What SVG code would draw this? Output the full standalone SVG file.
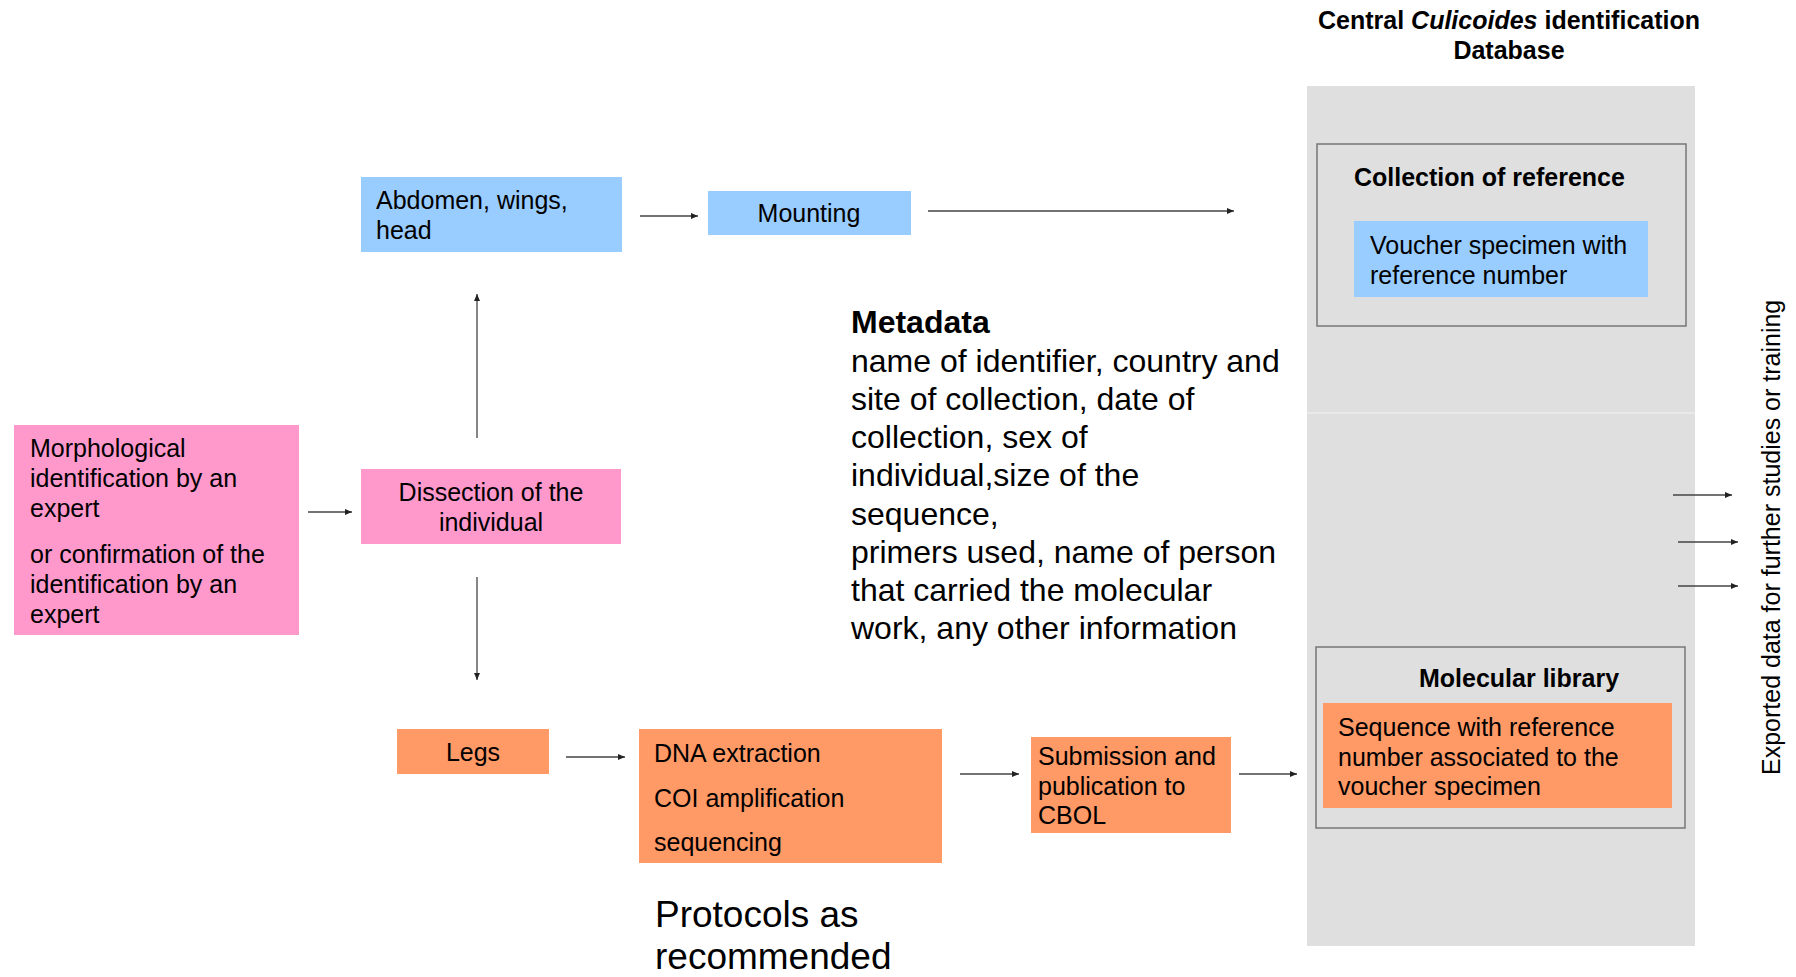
<svg xmlns="http://www.w3.org/2000/svg" width="1796" height="977" viewBox="0 0 1796 977">
<style>
text{font-family:"Liberation Sans",Arial,sans-serif;fill:#000}
.t{font-size:25px}
.b{font-size:25px;font-weight:bold}
.c{text-anchor:middle}
.m{font-size:32px}
.p{font-size:37px}
.blue{fill:#99CCFF}
.pink{fill:#FF99CC}
.orange{fill:#FF9966}
.conn line{stroke:#444;stroke-width:1.3;marker-end:url(#ah)}
</style>
<defs>
<marker id="ah" markerUnits="userSpaceOnUse" markerWidth="7" markerHeight="6" refX="7" refY="3" orient="auto">
<path d="M0,0 L7,3 L0,6 z" fill="#222"/>
</marker>
</defs>
<rect width="1796" height="977" fill="#fff"/>

<g id="database">
<rect x="1307" y="86" width="388" height="860" fill="#DFDFDF"/>
<line x1="1307" y1="413" x2="1695" y2="413" stroke="#EDEDED" stroke-width="1.5"/>
<text class="b c" x="1509" y="29">Central <tspan font-style="italic">Culicoides</tspan> identification</text>
<text class="b c" x="1509" y="59">Database</text>
</g>

<g id="collection">
<rect x="1317" y="144" width="369" height="182" fill="none" stroke="#777" stroke-width="1.5"/>
<text class="b" x="1354" y="186">Collection of reference</text>
</g>
<g id="voucher">
<rect class="blue" x="1354" y="221" width="294" height="76"/>
<text class="t" x="1370" y="254">Voucher specimen with</text>
<text class="t" x="1370" y="284">reference number</text>
</g>

<g id="molecular">
<rect x="1316" y="647" width="369" height="181" fill="none" stroke="#777" stroke-width="1.5"/>
<text class="b" x="1419" y="687">Molecular library</text>
</g>
<g id="sequence">
<rect class="orange" x="1323" y="703" width="349" height="105"/>
<text class="t" x="1338" y="736">Sequence with reference</text>
<text class="t" x="1338" y="766">number associated to the</text>
<text class="t" x="1338" y="795">voucher specimen</text>
</g>

<g id="morph">
<rect class="pink" x="14" y="425" width="285" height="210"/>
<text class="t" x="30" y="457">Morphological</text>
<text class="t" x="30" y="487">identification by an</text>
<text class="t" x="30" y="517">expert</text>
<text class="t" x="30" y="563">or confirmation of the</text>
<text class="t" x="30" y="593">identification by an</text>
<text class="t" x="30" y="623">expert</text>
</g>

<g id="dissection">
<rect class="pink" x="361" y="469" width="260" height="75"/>
<text class="t c" x="491" y="501">Dissection of the</text>
<text class="t c" x="491" y="531">individual</text>
</g>

<g id="abdomen">
<rect class="blue" x="361" y="177" width="261" height="75"/>
<text class="t" x="376" y="209">Abdomen, wings,</text>
<text class="t" x="376" y="239">head</text>
</g>

<g id="mounting">
<rect class="blue" x="708" y="191" width="203" height="44"/>
<text class="t c" x="809" y="222">Mounting</text>
</g>

<g id="legs">
<rect class="orange" x="397" y="729" width="152" height="45"/>
<text class="t c" x="473" y="761">Legs</text>
</g>

<g id="dna">
<rect class="orange" x="639" y="729" width="303" height="134"/>
<text class="t" x="654" y="762">DNA extraction</text>
<text class="t" x="654" y="807">COI amplification</text>
<text class="t" x="654" y="851">sequencing</text>
</g>

<g id="submission">
<rect class="orange" x="1031" y="737" width="200" height="96"/>
<text class="t" x="1038" y="765">Submission and</text>
<text class="t" x="1038" y="795">publication to</text>
<text class="t" x="1038" y="824">CBOL</text>
</g>

<g id="metadata">
<text class="m" x="851" y="333" font-weight="bold">Metadata</text>
<text class="m" x="851" y="371.5">name of identifier, country and</text>
<text class="m" x="851" y="409.5">site of collection, date of</text>
<text class="m" x="851" y="448">collection, sex of</text>
<text class="m" x="851" y="486">individual,size of the</text>
<text class="m" x="851" y="524.5">sequence,</text>
<text class="m" x="851" y="562.5">primers used, name of person</text>
<text class="m" x="851" y="601">that carried the molecular</text>
<text class="m" x="851" y="639">work, any other information</text>
</g>

<g id="protocols">
<text class="p" x="655" y="927">Protocols as</text>
<text class="p" x="655" y="969">recommended</text>
</g>

<g id="exported">
<text class="t" transform="translate(1780,775) rotate(-90)">Exported data for further studies or training</text>
</g>

<g class="conn" id="connectors">
<line x1="308" y1="512" x2="352" y2="512"/>
<line x1="477" y1="438" x2="477" y2="294"/>
<line x1="477" y1="577" x2="477" y2="680"/>
<line x1="640" y1="216" x2="698" y2="216"/>
<line x1="928" y1="211" x2="1234" y2="211"/>
<line x1="566" y1="757" x2="625" y2="757"/>
<line x1="960" y1="774" x2="1019" y2="774"/>
<line x1="1239" y1="774" x2="1297" y2="774"/>
<line x1="1673" y1="495" x2="1732" y2="495"/>
<line x1="1678" y1="542" x2="1738" y2="542"/>
<line x1="1678" y1="586" x2="1738" y2="586"/>
</g>
</svg>
